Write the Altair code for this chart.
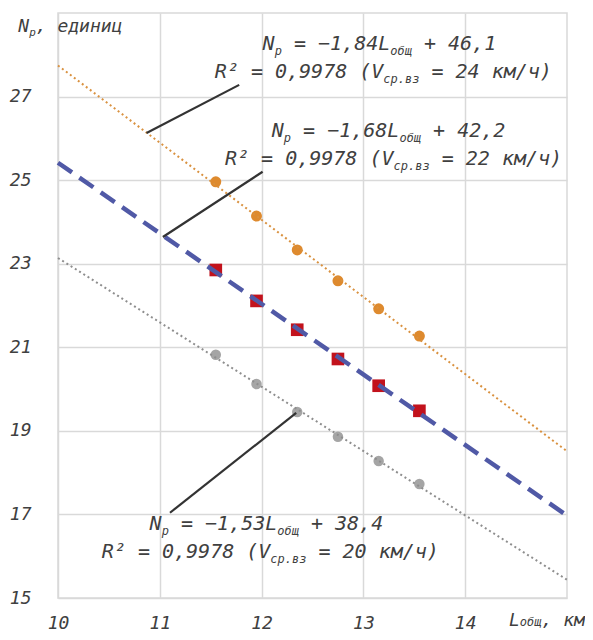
import altair as alt
import pandas as pd

# ---- data ----
L = [11.55, 11.95, 12.35, 12.75, 13.15, 13.55]
np24 = [24.96, 24.14, 23.33, 22.59, 21.92, 21.27]
np22 = [22.85, 22.11, 21.42, 20.72, 20.08, 19.48]
np20 = [20.82, 20.12, 19.45, 18.86, 18.28, 17.73]

x_ticks = [10, 11, 12, 13, 14]
y_ticks = [15, 17, 19, 21, 23, 25, 27]

# leader lines (data coordinates)
lead_x = [10.87, 11.03, 11.10]
lead_y = [26.13, 23.64, 17.04]
lead_x2 = [11.78, 12.01, 12.34]
lead_y2 = [27.28, 25.20, 19.43]

# annotations
eq_coef = ["−1,84", "−1,68", "−1,53"]
eq_icpt = ["46,1", "42,2", "38,4"]
r2_val = ["0,9978", "0,9978", "0,9978"]
speeds = ["24", "22", "20"]
eq_x = [12.01, 12.10, 10.90]
eq_y = [28.11, 26.03, 16.63]
r2_x = [11.54, 11.64, 10.43]
r2_y = [27.44, 25.36, 15.96]

# axis titles placed as text
ylab_x, ylab_y = [9.61], [28.55]
xlab_x, xlab_y = [14.43], [14.34]

# ---- styling ----
FONT = "DejaVu Sans Mono"
TXT = "#404040"
BIG, SUB = 20, 12
W = 0.602 * BIG
S = 0.602 * SUB

xs = alt.Scale(domain=[10, 15], nice=False, zero=False)
ys = alt.Scale(domain=[15, 29], nice=False, zero=False)

x_axis = alt.Axis(values=x_ticks, title=None, ticks=False, domain=False,
                  labelFont=FONT, labelFontStyle="italic", labelFontSize=18,
                  labelColor=TXT, labelPadding=16, labelFlush=False,
                  gridColor="#d9d9d9", gridWidth=1.5)
y_axis = alt.Axis(values=y_ticks, title=None, ticks=False, domain=False,
                  labelFont=FONT, labelFontStyle="italic", labelFontSize=18,
                  labelColor=TXT, labelPadding=27, labelFlush=False,
                  gridColor="#d9d9d9", gridWidth=1.5)


def X(f):
    return alt.X(f"{f}:Q", scale=xs, axis=x_axis)


def Y(f):
    return alt.Y(f"{f}:Q", scale=ys, axis=y_axis)


rows = []
for name, vals in (("24", np24), ("22", np22), ("20", np20)):
    for l, v in zip(L, vals):
        rows.append({"L": l, "N": v, "s": name})
pts = pd.DataFrame(rows)

base = alt.Chart(pts)

orange_pts = base.transform_filter("datum.s == '24'").mark_point(
    shape="circle", filled=True, size=120, color="#DE8A2E", opacity=1
).encode(x=X("L"), y=Y("N"))
red_pts = base.transform_filter("datum.s == '22'").mark_point(
    shape="square", filled=True, size=160, color="#C2121C", opacity=1
).encode(x=X("L"), y=Y("N"))
gray_pts = base.transform_filter("datum.s == '20'").mark_point(
    shape="circle", filled=True, size=110, color="#A5A5A5", opacity=1
).encode(x=X("L"), y=Y("N"))


def trend(s, color, width, dash):
    return base.transform_filter(f"datum.s == '{s}'").transform_regression(
        "L", "N", extent=[10, 15]
    ).mark_line(color=color, strokeWidth=width, strokeDash=dash).encode(
        x=X("L"), y=Y("N"))


t24 = trend("24", "#D9913F", 2, [2, 3])
t22 = trend("22", "#5059A6", 4.5, [17, 9])
t20 = trend("20", "#8e8e8e", 2, [2, 3])

leads = alt.Chart(pd.DataFrame({"x": lead_x, "y": lead_y, "x2": lead_x2,
                                "y2": lead_y2})).mark_rule(
    color="#333333", strokeWidth=2.2
).encode(x=X("x"), y=Y("y"), x2="x2:Q", y2="y2:Q")

eq_df = pd.DataFrame({
    "x": eq_x, "y": eq_y, "x2": r2_x, "y2": r2_y,
    "N": ["N"] * 3, "p": ["p"] * 3,
    "mid": [f"= {c}L" for c in eq_coef], "ob": ["общ"] * 3,
    "end": [f"+ {i}" for i in eq_icpt],
    "r": [f"R² = {r} (V" for r in r2_val], "sp": ["ср.вз"] * 3,
    "tail": [f"= {v} км/ч)" for v in speeds],
})


def seg(field, xf, yf, dx, size, dy=0, df=eq_df):
    return alt.Chart(df).mark_text(
        align="left", baseline="alphabetic", font=FONT, fontStyle="italic",
        fontSize=size, color=TXT, dx=dx, dy=dy
    ).encode(x=X(xf), y=Y(yf), text=f"{field}:N")


texts = [
    seg("N", "x", "y", 0, BIG),
    seg("p", "x", "y", W, SUB, 5),
    seg("mid", "x", "y", 2 * W + S, BIG),
    seg("ob", "x", "y", 10 * W + S, SUB, 5),
    seg("end", "x", "y", 11 * W + 4 * S, BIG),
    seg("r", "x2", "y2", 0, BIG),
    seg("sp", "x2", "y2", 14 * W, SUB, 5),
    seg("tail", "x2", "y2", 15 * W + 5 * S, BIG),
]

# axis titles as text
w18 = 0.602 * 18
s11 = 0.602 * 11
s12 = 0.602 * 12
yl_df = pd.DataFrame({"x": ylab_x, "y": ylab_y, "a": ["N"], "b": ["p"],
                      "c": [", единиц"]})
texts += [
    seg("a", "x", "y", 0, 18, df=yl_df),
    seg("b", "x", "y", w18, 11, 4, df=yl_df),
    seg("c", "x", "y", w18 + s11, 18, df=yl_df),
]
xl_df = pd.DataFrame({"x": xlab_x, "y": xlab_y, "a": ["L"], "b": ["общ"],
                      "c": [", км"]})
texts += [
    seg("a", "x", "y", 0, 18, df=xl_df),
    seg("b", "x", "y", w18, 12, 0, df=xl_df),
    seg("c", "x", "y", w18 + 3 * s12, 18, df=xl_df),
]

chart = alt.layer(
    orange_pts, red_pts, gray_pts, t24, t22, t20, leads, *texts
).properties(
    width=509, height=585,
    autosize=alt.AutoSizeParams(type="none"),
    padding={"left": 50, "top": 5, "right": 18, "bottom": 34},
    background="white",
).configure_view(stroke="#d9d9d9", strokeWidth=1.5)

chart.save("out.html", embed_options={"renderer": "svg", "actions": False})
